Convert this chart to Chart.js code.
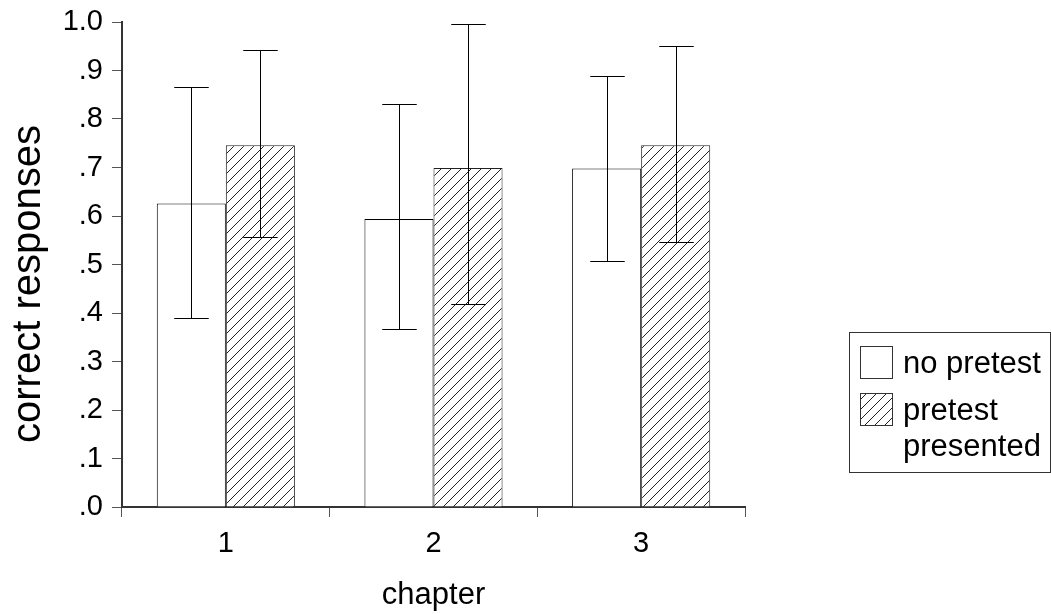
<!DOCTYPE html>
<html>
<head>
<meta charset="utf-8">
<script src="https://cdn.jsdelivr.net/npm/chart.js@4/dist/chart.umd.min.js"></script>
<style>
  body { margin: 0; background: #fff; }
  #wrap { width: 1051px; height: 614px; }
</style>
</head>
<body>
<div id="wrap"><canvas id="barChart" width="1051" height="614"></canvas></div>
<script>
const chapters = ['1', '2', '3'];
const seriesNames = ['no pretest', 'pretest presented'];
const xTitle = 'chapter';
const yTitle = 'correct responses';

const noPretest = [0.626, 0.594, 0.698];
const noPretestLow = [0.389, 0.368, 0.507];
const noPretestHigh = [0.865, 0.830, 0.888];

const pretest = [0.746, 0.699, 0.746];
const pretestLow = [0.557, 0.419, 0.547];
const pretestHigh = [0.943, 0.996, 0.950];

const yTickLabels = ['.0', '.1', '.2', '.3', '.4', '.5', '.6', '.7', '.8', '.9', '1.0'];

const FONT = '"Liberation Sans", Arial, sans-serif';

// diagonal hatch fill
function makeHatch() {
    const size = 10;
    const c = document.createElement('canvas');
    c.width = size; c.height = size;
    const g = c.getContext('2d');
    g.fillStyle = '#fff';
    g.fillRect(0, 0, size, size);
    g.strokeStyle = '#222';
    g.lineWidth = 1;
    g.beginPath();
    g.moveTo(0, size); g.lineTo(size, 0);
    g.moveTo(-size / 2, size / 2); g.lineTo(size / 2, -size / 2);
    g.moveTo(size / 2, size * 1.5); g.lineTo(size * 1.5, size / 2);
    g.stroke();
    return g.createPattern(c, 'repeat');
}
const hatch = makeHatch();

const errors = [
    {low: noPretestLow, high: noPretestHigh},
    {low: pretestLow, high: pretestHigh}
];

const errorBarPlugin = {
    id: 'errorBars',
    afterDatasetsDraw(chart) {
        const ctx = chart.ctx;
        const y = chart.scales.y;
        ctx.save();
        ctx.strokeStyle = '#000';
        ctx.lineWidth = 1;
        chart.data.datasets.forEach((ds, i) => {
            const meta = chart.getDatasetMeta(i);
            meta.data.forEach((bar, j) => {
                const x = Math.round(bar.x) + 0.5;
                const top = Math.round(y.getPixelForValue(errors[i].high[j])) + 0.5;
                const bot = Math.round(y.getPixelForValue(errors[i].low[j])) + 0.5;
                const half = bar.width / 4;
                ctx.beginPath();
                ctx.moveTo(x, top); ctx.lineTo(x, bot);
                ctx.moveTo(x - half, top); ctx.lineTo(x + half, top);
                ctx.moveTo(x - half, bot); ctx.lineTo(x + half, bot);
                ctx.stroke();
            });
        });
        ctx.restore();
    }
};

// y title drawn by hand so it can sit where the original has it
const yTitlePlugin = {
    id: 'yTitle',
    afterDraw(chart) {
        const ctx = chart.ctx;
        ctx.save();
        ctx.translate(29, 284);
        ctx.rotate(-Math.PI / 2);
        ctx.font = '40px ' + FONT;
        ctx.fillStyle = '#000';
        ctx.textAlign = 'center';
        ctx.textBaseline = 'middle';
        ctx.fillText(yTitle, 0, 0);
        ctx.restore();
    }
};

const boxLegendPlugin = {
    id: 'boxLegend',
    afterDraw(chart) {
        const ctx = chart.ctx;
        ctx.save();
        ctx.strokeStyle = '#333';
        ctx.lineWidth = 1;
        ctx.strokeRect(849.5, 332.5, 201, 140);
        ctx.font = '31px ' + FONT;
        ctx.textBaseline = 'alphabetic';
        const rows = [
            {y: 346, fill: '#fff', lines: ['no pretest']},
            {y: 393, fill: hatch, lines: ['pretest', 'presented']}
        ];
        rows.forEach((r) => {
            ctx.fillStyle = r.fill;
            ctx.fillRect(860, r.y, 32, 32);
            ctx.strokeStyle = '#333';
            ctx.strokeRect(860.5, r.y + 0.5, 32, 32);
            ctx.fillStyle = '#000';
            r.lines.forEach((t, k) => ctx.fillText(t, 903, r.y + 27 + k * 36));
        });
        ctx.restore();
    }
};

const config = {
    type: 'bar',
    data: {
        labels: chapters,
        datasets: [{
            label: seriesNames[0],
            data: noPretest,
            backgroundColor: '#fff',
            borderColor: '#000',
            borderWidth: 1
        }, {
            label: seriesNames[1],
            data: pretest,
            backgroundColor: hatch,
            borderColor: '#222',
            borderWidth: 1
        }]
    },
    options: {
        responsive: false,
        animation: false,
        categoryPercentage: 0.665,
        barPercentage: 1,
        layout: {padding: {top: 22, right: 306, left: 0, bottom: 0}},
        plugins: {
            legend: {display: false},
            tooltip: {enabled: false}
        },
        scales: {
            x: {
                offset: true,
                grid: {
                    offset: true,
                    drawOnChartArea: false,
                    drawTicks: true,
                    tickLength: 10,
                    color: (c) => c.index >= 3 ? 'rgba(0,0,0,0)' : '#555'
                },
                border: {display: true, color: '#333', width: 2},
                ticks: {color: '#000', font: {family: FONT, size: 29}, padding: 10},
                title: {display: true, text: xTitle, color: '#000',
                        font: {family: FONT, size: 31}, padding: {top: 10, bottom: 0}},
                afterFit(scale) { scale.height = 107; }
            },
            y: {
                min: 0,
                max: 1,
                ticks: {
                    stepSize: 0.1,
                    color: '#000',
                    font: {family: FONT, size: 29},
                    padding: 9,
                    callback: (v, i) => yTickLabels[i]
                },
                grid: {drawOnChartArea: false, drawTicks: true, tickLength: 10, color: '#555'},
                border: {display: true, color: '#333', width: 2},
                afterFit(scale) {
                    scale.width = 122;
                    scale.paddingTop = 0;
                    scale.paddingBottom = 0;
                }
            }
        }
    },
    plugins: [errorBarPlugin, yTitlePlugin, boxLegendPlugin]
};

new Chart(document.getElementById('barChart'), config);
</script>
</body>
</html>
